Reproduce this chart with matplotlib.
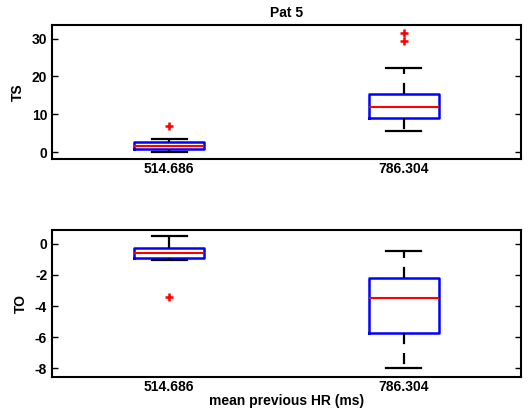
import matplotlib
matplotlib.use("Agg")
import matplotlib.pyplot as plt

plt.rcParams['font.family'] = ['Liberation Sans', 'DejaVu Sans']
plt.rcParams['font.weight'] = 'bold'
plt.rcParams['axes.labelweight'] = 'bold'
plt.rcParams['axes.titleweight'] = 'bold'
plt.rcParams['axes.unicode_minus'] = False
plt.rcParams['font.size'] = 10

# mean previous HR groups
groups = ['514.686', '786.304']

# TS box statistics per group: low whisker, q1, median, q3, high whisker
ts_whislo = [0.0, 5.5]
ts_q1 = [0.9, 8.9]
ts_med = [1.6, 11.9]
ts_q3 = [2.6, 15.5]
ts_whishi = [3.5, 22.2]
ts_fliers = [[6.9], [29.5, 31.6]]

# TO box statistics per group
to_whislo = [-1.07, -8.0]
to_q1 = [-0.92, -5.75]
to_med = [-0.58, -3.5]
to_q3 = [-0.3, -2.2]
to_whishi = [0.51, -0.49]
to_fliers = [[-3.4], []]


def make_stats(lo, q1, med, q3, hi, fl):
    stats = []
    for i in range(len(groups)):
        stats.append({'whislo': lo[i], 'q1': q1[i], 'med': med[i], 'q3': q3[i],
                      'whishi': hi[i], 'fliers': fl[i], 'label': groups[i]})
    return stats


def draw_box(ax, stats, ylim, yticks, ylabel):
    ax.bxp(stats, positions=[1, 2], widths=0.3, showfliers=True,
           boxprops=dict(color='blue', linewidth=1.8),
           medianprops=dict(color='red', linewidth=1.5),
           whiskerprops=dict(color='black', linestyle=(0, (5, 4)), linewidth=1.6),
           capprops=dict(color='black', linewidth=1.6),
           capwidths=0.15,
           flierprops=dict(marker='+', markeredgecolor='red', markersize=6,
                           markeredgewidth=1.8, linestyle='none'))
    ax.set_xlim(0.5, 2.5)
    ax.set_ylim(ylim)
    ax.set_yticks(yticks)
    ax.set_ylabel(ylabel, fontsize=10, fontweight='bold', labelpad=5)
    ax.tick_params(axis='y', direction='in', right=True, length=4, width=1)
    ax.tick_params(axis='x', length=0, pad=2)
    for s in ax.spines.values():
        s.set_linewidth(1.5)


fig = plt.figure(figsize=(5.32, 4.12), dpi=100)
ax1 = fig.add_axes([52 / 532, 1 - 159 / 412, 469 / 532, 134 / 412])
ax2 = fig.add_axes([52 / 532, 1 - 377 / 412, 469 / 532, 147 / 412])

draw_box(ax1, make_stats(ts_whislo, ts_q1, ts_med, ts_q3, ts_whishi, ts_fliers),
         (-1.8, 33.6), [0, 10, 20, 30], 'TS')
ax1.set_title('Pat 5', fontsize=10, fontweight='bold', pad=6)

draw_box(ax2, make_stats(to_whislo, to_q1, to_med, to_q3, to_whishi, to_fliers),
         (-8.55, 0.88), [-8, -6, -4, -2, 0], 'TO')
ax2.set_xlabel('mean previous HR (ms)', fontsize=10, fontweight='bold', labelpad=0)

fig.savefig('out.png', dpi=100)
